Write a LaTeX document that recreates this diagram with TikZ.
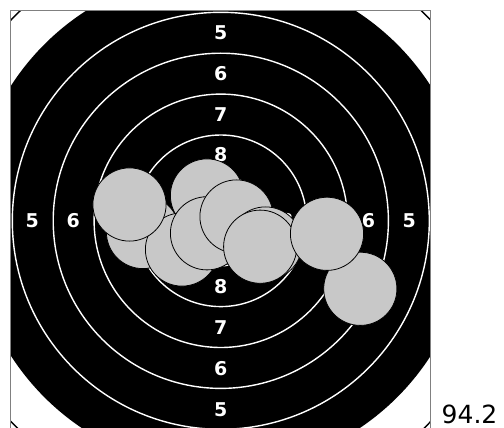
\documentclass[tikz,border=0pt]{standalone}
\usepackage{fontspec}
\setmainfont{DejaVu Sans}
\definecolor{shotgray}{RGB}{200,200,200}
\definecolor{framegray}{RGB}{128,128,128}
\begin{document}
\begin{tikzpicture}[x=1pt,y=-1pt,
  ringline/.style={draw=white,line width=1.4pt},
  ringlabel/.style={text=white,font=\bfseries\fontsize{19}{19}\selectfont,inner sep=0pt},
  shot/.style={circle,fill=shotgray,draw=black,line width=0.8pt,minimum size=73.2pt,inner sep=0pt},
  scoretext/.style={font=\fontsize{25}{25}\selectfont,inner sep=0pt,anchor=base west}]
\useasboundingbox (0,0) rectangle (504,428);
\coordinate (c) at (220.8,220.8);
\begin{scope}
  \clip (10.8,10.8) rectangle (430.8,430.8);
  \fill[black] (c) circle (249.5);
  \draw[line width=1.4pt] (c) circle (290.4);
  \foreach \r in {208.5,167.6,126.7,85.8,45.0} \draw[ringline] (c) circle (\r);
  \fill[white] (c) circle (4.1);
\end{scope}
\draw[framegray,line width=1.2pt] (10.8,10.8) rectangle (430.8,430.8);
% labels
\node[ringlabel] (t5) at (220.8,32.3) {5};
\node[ringlabel] (t6) at (220.8,73.2) {6};
\node[ringlabel] (t7) at (220.8,114.1) {7};
\node[ringlabel] (t8) at (220.8,155.0) {8};
\node[ringlabel] (b8) at (220.8,286.6) {8};
\node[ringlabel] (b7) at (220.8,327.5) {7};
\node[ringlabel] (b6) at (220.8,368.4) {6};
\node[ringlabel] (b5) at (220.8,409.3) {5};
\node[ringlabel] (l5) at (32.3,220.8) {5};
\node[ringlabel] (l6) at (73.2,220.8) {6};
\node[ringlabel] (l7) at (114.1,220.8) {7};
\node[ringlabel] (l8) at (155.0,220.8) {8};
\node[ringlabel] (r8) at (286.6,220.8) {8};
\node[ringlabel] (r7) at (327.5,220.8) {7};
\node[ringlabel] (r6) at (368.4,220.8) {6};
\node[ringlabel] (r5) at (409.3,220.8) {5};
% shots
\node[shot] (s2) at (143,232) {};
\node[shot] (s3) at (207,195.5) {};
\node[shot] (s4) at (182,249.5) {};
\node[shot] (s1) at (129.5,204.5) {};
\node[shot] (s5) at (207,233.3) {};
\node[shot] (s6) at (236.5,216.5) {};
\node[shot] (s7) at (265.5,243.5) {};
\node[shot] (s8) at (260.2,246.7) {};
\node[shot] (s10) at (360.3,288.8) {};
\node[shot] (s9) at (327,233.8) {};
\node[scoretext] (score) at (441.5,423) {94.2};
\end{tikzpicture}
\end{document}
